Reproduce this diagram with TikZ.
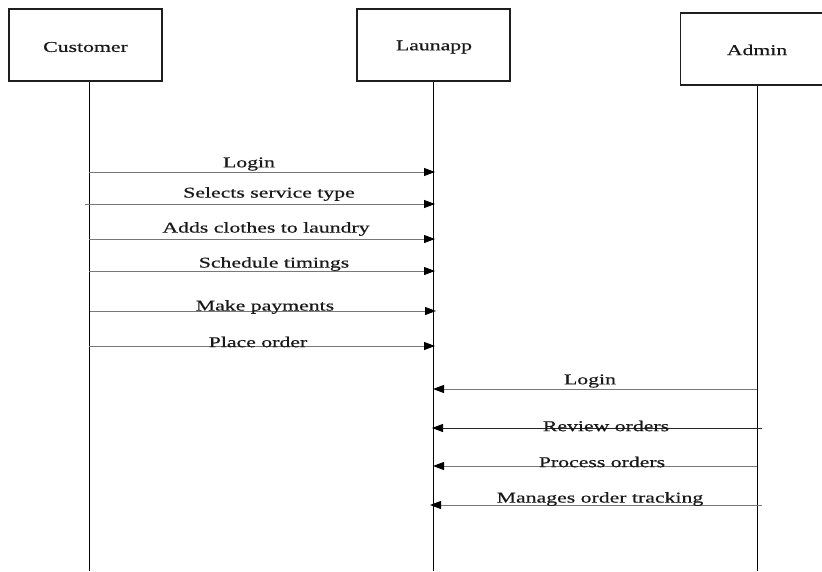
\documentclass[tikz,border=0pt]{standalone}
\usepackage{fontspec}
\setmainfont{Liberation Serif}[FakeStretch=1.45,FakeBold=0.6]
\usetikzlibrary{arrows.meta}
\definecolor{boxline}{RGB}{30,30,30}
\definecolor{msgline}{RGB}{120,120,120}
\tikzset{
  actor/.style={draw=boxline, line width=1.6pt, minimum width=153pt, minimum height=72pt, inner sep=0pt, font=\fontsize{15}{18}\selectfont},
  lifeline/.style={draw=black, line width=1pt},
  msg/.style={draw=msgline, line width=0.9pt, -{Triangle[length=11pt,width=8pt,fill=black,color=black]}},
  msglabel/.style={font=\fontsize{15}{18}\selectfont, inner sep=0pt, text=black!90}
}
\begin{document}
\begin{tikzpicture}[x=1pt,y=-1pt]
\useasboundingbox (0,0) rectangle (822,571);
\clip (0,0) rectangle (822,571);
% actors
\node[actor] (cust) at (85.5,45) {};
\node[msglabel] (custt) at (85.5,47) {Customer};
\node[actor] (app) at (433.5,45) {};
\node[msglabel] (appt) at (434,47) {Launapp};
\node[actor] (adm) at (757,49) {};
\node[msglabel] (admt) at (757,50) {Admin};
% lifelines
\coordinate (cEnd) at (89,571);
\coordinate (aEnd) at (433,571);
\coordinate (dEnd) at (757,571);
\draw[lifeline] (cust.south -| cEnd) -- (cEnd);
\draw[lifeline] (app.south -| aEnd) -- (aEnd);
\draw[lifeline] (adm.south -| dEnd) -- (dEnd);
% customer messages
\coordinate (c1) at (89,172);  \coordinate (a1) at (435,172);
\coordinate (c2) at (85,204);  \coordinate (a2) at (435,204);
\coordinate (c3) at (89,239);  \coordinate (a3) at (435,239);
\coordinate (c4) at (89,271);  \coordinate (a4) at (435,271);
\coordinate (c5) at (90,311);  \coordinate (a5) at (436,311);
\coordinate (c6) at (89,346);  \coordinate (a6) at (435,346);
\draw[msg] (c1) -- (a1);
\draw[msg] (c2) -- (a2);
\draw[msg] (c3) -- (a3);
\draw[msg] (c4) -- (a4);
\draw[msg] (c5) -- (a5);
\draw[msg] (c6) -- (a6);
\node[msglabel] (m1) at (249,164) {Login};
\node[msglabel] (m2) at (269,194) {Selects service type};
\node[msglabel] (m3) at (266,229) {Adds clothes to laundry};
\node[msglabel] (m4) at (274,264) {Schedule timings};
\node[msglabel] (m5) at (265,307) {Make payments};
\node[msglabel] (m6) at (258,342) {Place order};
% admin messages
\coordinate (d7) at (757,389);  \coordinate (b7) at (433,389);
\coordinate (d8) at (762,428);  \coordinate (b8) at (432,428);
\coordinate (d9) at (757,466);  \coordinate (b9) at (433,466);
\coordinate (d10) at (762,505); \coordinate (b10) at (430,505);
\draw[msg] (d7) -- (b7);
\draw[msg, draw=black!85] (d8) -- (b8);
\draw[msg] (d9) -- (b9);
\draw[msg] (d10) -- (b10);
\node[msglabel] (m7) at (590,381) {Login};
\node[msglabel] (m8) at (606,426) {Review orders};
\node[msglabel] (m9) at (602,462) {Process orders};
\node[msglabel] (m10) at (600,499) {Manages order tracking};
\end{tikzpicture}
\end{document}
